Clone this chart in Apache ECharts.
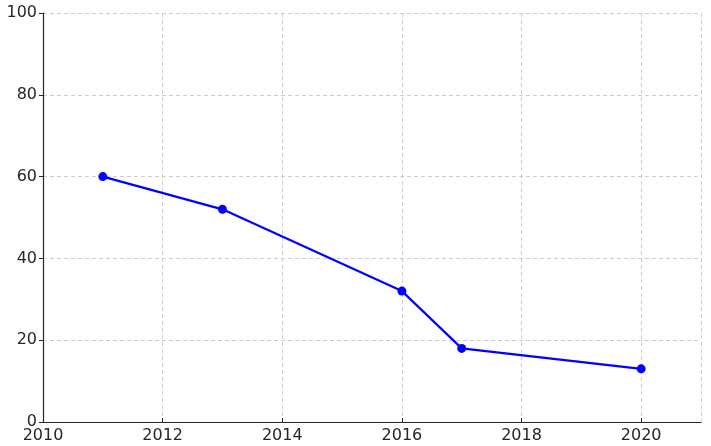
<!DOCTYPE html>
<html><head><meta charset="utf-8">
<script src="https://cdn.jsdelivr.net/npm/echarts@6/dist/echarts.min.js"></script>
<style>html,body{margin:0;padding:0;background:#fff}#c{width:711px;height:446px}</style>
</head><body><div id="c"></div>
<script>
var years = [2011, 2013, 2016, 2017, 2020];
var values = [60, 52, 32, 18, 13];
var chart = echarts.init(document.getElementById('c'));
var font = {fontFamily: 'DejaVu Sans', fontSize: 16, color: '#262626'};
chart.setOption({
  animation: false,
  grid: {left: 43, right: 10, top: 13, bottom: 24, containLabel: false},
  xAxis: {
    type: 'value', min: 2010, max: 2021, interval: 2,
    axisLine: {show: true, lineStyle: {color: '#262626', width: 1.2}},
    axisTick: {show: true, inside: true, length: 4, lineStyle: {color: '#262626'}},
    axisLabel: Object.assign({margin: 6, showMaxLabel: false, formatter: function(v){return String(v);}}, font),
    splitLine: {show: true, lineStyle: {color: '#cccccc', type: [4, 3], width: 1}}
  },
  yAxis: {
    type: 'value', min: 0, max: 100, interval: 20,
    axisLine: {show: true, lineStyle: {color: '#262626', width: 1.2}},
    axisTick: {show: true, inside: false, length: 4, lineStyle: {color: '#262626'}},
    axisLabel: Object.assign({margin: 6}, font),
    splitLine: {show: true, lineStyle: {color: '#cccccc', type: [4, 3], width: 1}}
  },
  series: [{
    type: 'line',
    data: years.map(function(y, i){ return [y, values[i]]; }),
    lineStyle: {color: '#0000ff', width: 2.2},
    itemStyle: {color: '#0000ff'},
    symbol: 'circle', symbolSize: 9, showSymbol: true
  }]
});
</script></body></html>
